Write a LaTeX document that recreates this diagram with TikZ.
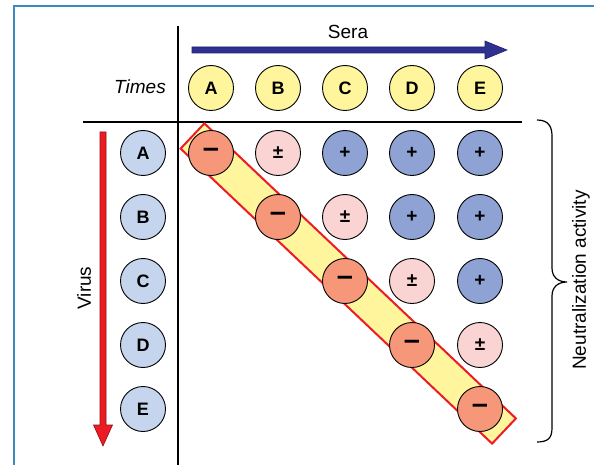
\documentclass[tikz,border=0pt]{standalone}
\usepackage{fontspec}
\setmainfont{Liberation Sans}
\begin{document}
\begin{tikzpicture}[x=1pt,y=-1pt,
  cell/.style={circle,draw=black,line width=0.9pt,minimum size=45pt,inner sep=0pt,
    font=\fontsize{18}{20}\selectfont\bfseries},
  hdrcell/.style={cell,fill=yhead},
  vircell/.style={cell,fill=vblue},
  negcell/.style={cell,fill=salmon,font=\fontsize{29}{29}\selectfont\bfseries},
  midcell/.style={cell,fill=pinkc,font=\fontsize{19}{19}\selectfont\bfseries},
  poscell/.style={cell,fill=bluec,font=\fontsize{19}{19}\selectfont\bfseries},
  lab/.style={font=\fontsize{19}{21}\selectfont,inner sep=0pt},
  axisline/.style={line width=2.2pt,black},
]
\definecolor{yhead}{HTML}{FFF59D}
\definecolor{vblue}{HTML}{C6D5EE}
\definecolor{salmon}{HTML}{F7977A}
\definecolor{pinkc}{HTML}{FAD4D2}
\definecolor{bluec}{HTML}{8EA3D3}
\definecolor{navyc}{HTML}{2E3192}
\definecolor{redc}{HTML}{ED1C24}
\definecolor{framec}{HTML}{3A8AC0}

\useasboundingbox (0,0) rectangle (594,465);
\clip (0,0) rectangle (594,465);
\fill[white] (0,0) rectangle (594,465);
\draw[framec,line width=2pt] (14,6) rectangle (620,490);

% axis lines
\coordinate (vt) at (178,26);
\coordinate (vb) at (178,470);
\coordinate (hl) at (83,122);
\coordinate (hr) at (522,122);
\draw[axisline] (vt) -- (vb);
\draw[axisline] (hl) -- (hr);

% diagonal band
\draw[redc,line width=2pt,fill=yhead,line join=miter]
  (180.6,148.6) -- (204.4,123.4) -- (515.9,418.4) -- (492.1,443.6) -- cycle;

% Sera arrow
\draw[navyc!70!black,line width=0.6pt,fill=navyc]
  (192,47) -- (485,47) -- (485,41) -- (507,50) -- (485,59) -- (485,53) -- (192,53) -- cycle;
\node[lab] (sera) at (348,32) {Sera};

% Virus arrow
\draw[redc!60!black,line width=0.6pt,fill=redc]
  (100,132) -- (106,132) -- (106,425) -- (112.5,425) -- (103,446) -- (93.5,425) -- (100,425) -- cycle;
\node[lab,rotate=90] (virus) at (84,288) {Virus};

\node[lab,anchor=east,font=\fontsize{19}{21}\selectfont\itshape] (times) at (166,87) {Times};

% header circles
\foreach \l/\x in {A/211,B/278,C/345,D/412,E/480}
  \node[hdrcell] (h\l) at (\x,88) {\l};
% virus circles
\foreach \l/\y in {A/153,B/217,C/281,D/345,E/409}
  \node[vircell] (v\l) at (143,\y) {\l};

% row A
\node[negcell] (aa) at (211,153) {–};
\node[midcell] (ab) at (278,153) {±};
\node[poscell] (ac) at (345,153) {+};
\node[poscell] (ad) at (412,153) {+};
\node[poscell] (ae) at (480,153) {+};
% row B
\node[negcell] (bb) at (278,217) {–};
\node[midcell] (bc) at (345,217) {±};
\node[poscell] (bd) at (412,217) {+};
\node[poscell] (be) at (480,217) {+};
% row C
\node[negcell] (cc) at (345,281) {–};
\node[midcell] (cd) at (412,281) {±};
\node[poscell] (ce) at (480,281) {+};
% row D
\node[negcell] (dd) at (412,345) {–};
\node[midcell] (de) at (480,345) {±};
% row E
\node[negcell] (ee) at (480,409) {–};

% brace
\draw[line width=1.2pt]
  (537,120) .. controls (548,120) and (552,126) .. (552,136)
  -- (552,268) .. controls (552,277) and (558,282) .. (567,282)
  .. controls (558,282) and (552,287) .. (552,296)
  -- (552,428) .. controls (552,438) and (548,442) .. (537,442);
\node[lab,rotate=90] (neut) at (581,280) {Neutralization activity};
\end{tikzpicture}
\end{document}
